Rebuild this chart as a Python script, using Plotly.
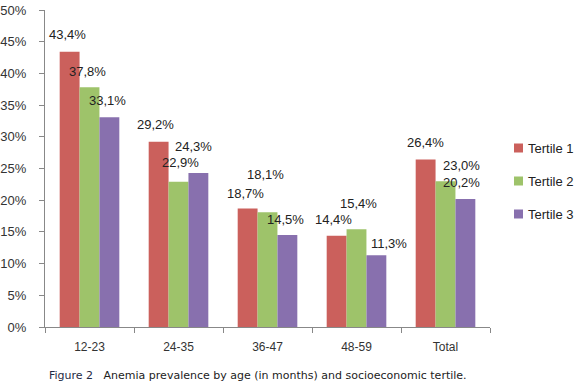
import plotly.graph_objects as go

categories = ["12-23", "24-35", "36-47", "48-59", "Total"]
tertile1 = [43.4, 29.2, 18.7, 14.4, 26.4]
tertile2 = [37.8, 22.9, 18.1, 15.4, 23.0]
tertile3 = [33.1, 24.3, 14.5, 11.3, 20.2]
series_names = ["Tertile 1", "Tertile 2", "Tertile 3"]
y_ticks = [0, 5, 10, 15, 20, 25, 30, 35, 40, 45, 50]

# styling: colours and label nudges (pixels, relative to bar centre / bar top)
colors = ["#CB605C", "#9EC36A", "#8870AE"]
label_nudges = [
    [(-2, 17), (-3, 17), (-2, 15), (-3, 16), (0, 17)],
    [(-2, 16), (2, 19), (-2, 38), (2, 26), (16, 16)],
    [(-2, 17), (-5, 26), (-2, 16), (12, 12), (-4, 16)],
]
series = [tertile1, tertile2, tertile3]

L, R, T, B = 45, 87, 10, 58
W, H = 577, 385
PW, PH = W - L - R, H - T - B

def px_x(p):
    return (p - L) / PW

def px_y(p):
    return (H - B - p) / PH

fig = go.Figure()
for i, (name, vals) in enumerate(zip(series_names, series)):
    fig.add_trace(go.Bar(
        x=categories, y=vals, name=name, marker_color=colors[i],
        marker_line_width=0, showlegend=False,
    ))

def fmt(v):
    return f"{v:.1f}%".replace(".", ",")

for i, vals in enumerate(series):
    for j, (c, v) in enumerate(zip(categories, vals)):
        dx, dy = label_nudges[i][j]
        fig.add_annotation(
            x=c, y=v, xref="x", yref="y", text=fmt(v), showarrow=False,
            xanchor="center", yanchor="middle", xshift=(i - 1) * 20 + dx, yshift=dy,
            font=dict(family="Liberation Sans, Arial", size=13, color="#222222"),
        )

# manual legend (right side)
for i, name in enumerate(series_names):
    cy = 148 + i * 33
    fig.add_shape(type="rect", xref="paper", yref="paper",
                  x0=px_x(514), x1=px_x(523), y0=px_y(cy + 4.5), y1=px_y(cy - 4.5),
                  fillcolor=colors[i], line_width=0)
    fig.add_annotation(xref="paper", yref="paper", x=px_x(526), y=px_y(cy),
                       xanchor="left", yanchor="middle", showarrow=False, text=name,
                       font=dict(family="Liberation Sans, Arial", size=13, color="#222222"))

fig.add_annotation(
    xref="paper", yref="paper", x=px_x(47), y=px_y(375), xanchor="left", yanchor="middle",
    showarrow=False,
    text="<span style='color:#1F2A44'>Figure 2</span>   Anemia prevalence by age (in months) and socioeconomic tertile.",
    font=dict(family="DejaVu Sans", size=11, color="#222222"),
)

fig.update_layout(
    width=W, height=H,
    margin=dict(l=L, r=R, t=T, b=B, autoexpand=False),
    paper_bgcolor="white", plot_bgcolor="white",
    barmode="group", bargap=0.33, bargroupgap=0,
    font=dict(family="Liberation Sans, Arial", size=12, color="#333333"),
    showlegend=False,
    yaxis=dict(range=[0, 50], tickvals=y_ticks, ticktext=[f"{t}%" for t in y_ticks],
               automargin=False, ticklabelstandoff=10,
               showgrid=False, zeroline=False, showline=True, linecolor="#888888",
               ticks="outside", ticklen=5, tickcolor="#888888",
               tickfont=dict(size=13, color="#333333")),
    xaxis=dict(showgrid=False, showline=True, linecolor="#888888", automargin=False,
               ticks="outside", ticklen=5, tickcolor="#888888", tickson="boundaries",
               ticklabelstandoff=9,
               tickfont=dict(size=12, color="#333333")),
)

fig.write_html("out.html", config={"displayModeBar": False},
               post_script="document.body.style.margin='0';document.body.style.overflow='hidden';")
